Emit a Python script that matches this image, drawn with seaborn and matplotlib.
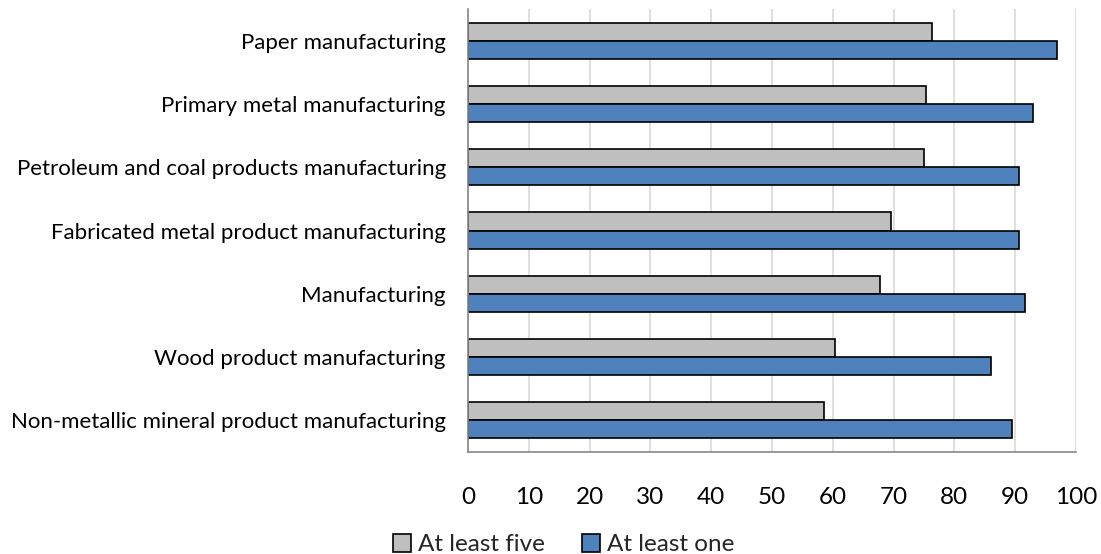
import pandas as pd
import matplotlib.pyplot as plt
import seaborn as sns

# Values
industries = [
    'Paper manufacturing',
    'Primary metal manufacturing',
    'Petroleum and coal products manufacturing',
    'Fabricated metal product manufacturing',
    'Manufacturing',
    'Wood product manufacturing',
    'Non-metallic mineral product manufacturing',
]
at_least_five = [76.3, 75.4, 75.0, 69.6, 67.8, 60.3, 58.6]
at_least_one = [96.9, 92.9, 90.7, 90.7, 91.6, 86.0, 89.4]
series = ['At least five', 'At least one']
colors = ['#BFBFBF', '#4F81BD']

df = pd.DataFrame({
    'industry': industries * 2,
    'value': at_least_five + at_least_one,
    'series': [series[0]] * len(industries) + [series[1]] * len(industries),
})

sns.set_style('white')
plt.rcParams['font.family'] = ['Lato', 'DejaVu Sans']

fig = plt.figure(figsize=(11.01, 5.54), dpi=100)
ax = fig.add_axes([468 / 1101, 1 - 452 / 554, (1076 - 468) / 1101, (452 - 9) / 554])

sns.barplot(data=df, x='value', y='industry', hue='series', order=industries,
            hue_order=series, palette=colors, saturation=1, orient='h', width=0.57,
            edgecolor='black', linewidth=1.2, ax=ax, legend=True)

ax.set_xlim(0, 100)
ax.set_ylim(len(industries) - 0.5, -0.5)
ax.set_xticks(range(0, 101, 10))
ax.xaxis.grid(True, color='#D9D9D9', linewidth=1.2)
ax.set_axisbelow(True)
ax.set_xlabel('')
ax.set_ylabel('')

for side in ['top', 'right']:
    ax.spines[side].set_visible(False)
for side in ['left', 'bottom']:
    ax.spines[side].set_color('#868686')
    ax.spines[side].set_linewidth(1.2)

# Excel-style ticks: category labels unticked, short ticks at category boundaries
ax.tick_params(axis='y', which='major', length=0, pad=16, labelsize=16)
ax.set_yticks([i - 0.5 for i in range(len(industries) + 1)], minor=True)
ax.tick_params(axis='y', which='minor', length=6, color='#868686', width=1.2)
ax.tick_params(axis='x', length=6, color='#868686', width=1.2, labelsize=17.5, pad=19)
ax.tick_params(axis='both', labelcolor='black')

handles, labels = ax.get_legend_handles_labels()
ax.get_legend().remove()
fig.legend(handles, labels, loc='lower center', bbox_to_anchor=(0.512, -0.042),
           ncol=2, frameon=False, fontsize=17.5, handlelength=0.75, handleheight=0.75,
           handletextpad=0.3, columnspacing=1.5)

fig.savefig('out.png', dpi=100)
